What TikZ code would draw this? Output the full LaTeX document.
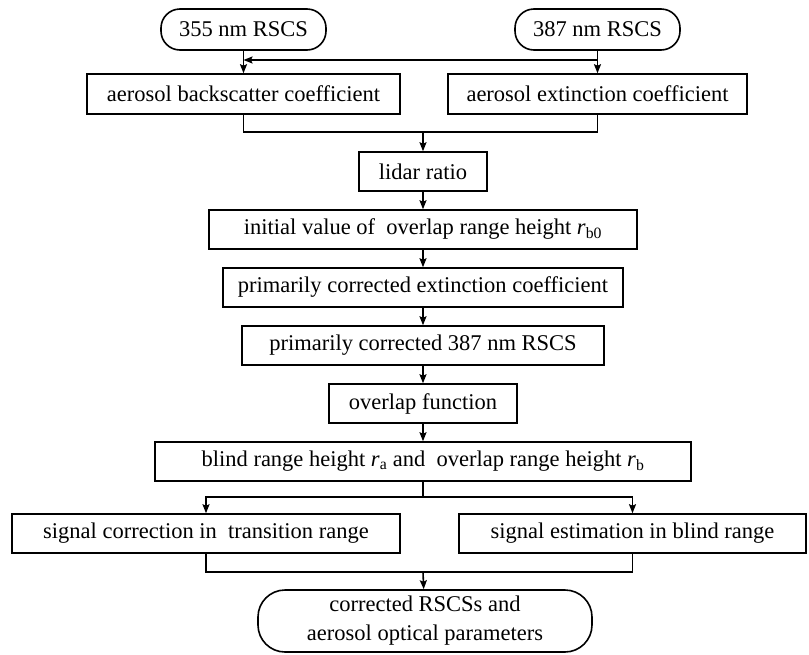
\documentclass[tikz,border=0pt]{standalone}
\usepackage{fontspec}
\setmainfont{Liberation Serif}
\usepackage{tikz}
\usetikzlibrary{shapes,arrows.meta,positioning}

\begin{document}
\begin{tikzpicture}[->,>={Stealth[length=9pt,width=7pt,inset=1.5pt]},x=1pt,y=-1pt,
                    node distance=58pt,line width=1.6pt]
  \tikzstyle{every node}=[font=\fontsize{22.5}{29}\selectfont,inner sep=0pt]
  \tikzstyle{box}=[draw,rectangle,minimum height=39pt]
  \tikzstyle{term}=[draw,rectangle,rounded corners=19pt,minimum height=41pt]

  \useasboundingbox (0,0) rectangle (809,654);

  \node[term,minimum width=165pt] (R355) at (243.5,29.5) {355 nm RSCS};
  \node[term,minimum width=165pt] (R387) at (597.5,29.5) {387 nm RSCS};

  \node[box,minimum width=313pt,minimum height=40pt] (Back) at (243.5,94)
    {aerosol backscatter coefficient};
  \node[box,minimum width=299pt,minimum height=40pt] (Ext)  at (597.5,94)
    {aerosol extinction coefficient};

  \node[box,minimum width=128pt] (Lidar) at (423,171.5) {lidar ratio};
  \node[box,minimum width=428pt] (Init)  [below of=Lidar]
    {initial value of \ overlap range height \textit{r}\textsubscript{b0}};
  \node[box,minimum width=400pt] (PExt)  [below of=Init]
    {primarily corrected extinction coefficient};
  \node[box,minimum width=362pt] (P387)  [below of=PExt]
    {primarily corrected 387 nm RSCS};
  \node[box,minimum width=188pt] (Ovl)   [below of=P387] {overlap function};
  \node[box,minimum width=536pt] (Blind) [below of=Ovl]
    {blind range height \textit{r}\textsubscript{a} and \ overlap range height \textit{r}\textsubscript{b}};

  \node[box,minimum width=388pt] (Corr) at (206,533.5)
    {signal correction in \ transition range};
  \node[box,minimum width=347pt] (Est)  at (632.5,533.5)
    {signal estimation in blind range};

  \node[term,rounded corners=27pt,minimum width=334pt,minimum height=62pt,
        align=center] (Final) at (425,621)
    {corrected RSCSs and\\aerosol optical parameters};

  \coordinate (j387) at (597.5,60);
  \coordinate (j355) at (243.5,60);
  \coordinate (m1) at (423,132);
  \coordinate (s1) at (423,497);
  \coordinate (m2) at (423,572);

  \path (R355) edge (Back)
        (R387) edge (Ext)
        (j387) edge (j355)
        (Lidar) edge (Init)
        (Init) edge (PExt)
        (PExt) edge (P387)
        (P387) edge (Ovl)
        (Ovl) edge (Blind);

  \draw[-] (Back) |- (m1) -| (Ext);
  \draw (m1) -- (Lidar);
  \draw[-] (Blind) -- (s1);
  \draw (s1) -| (Corr);
  \draw (s1) -| (Est);
  \draw[-] (Corr) |- (m2) -| (Est);
  \draw (m2) -- (Final);
\end{tikzpicture}
\end{document}
